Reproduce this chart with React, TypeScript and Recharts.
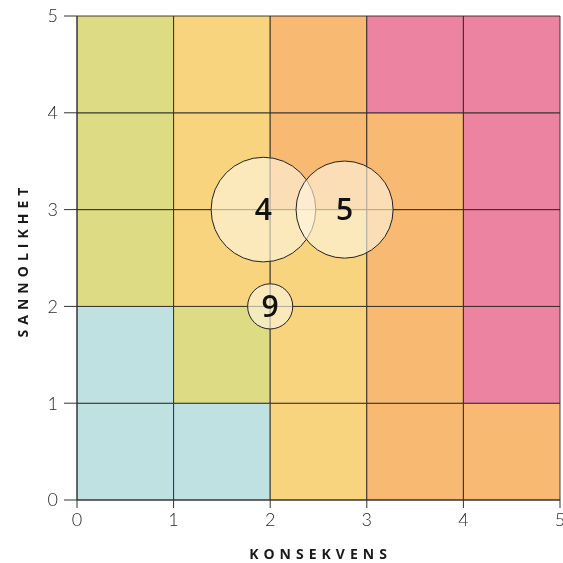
import React from "react";
import {
  ScatterChart,
  Scatter,
  XAxis,
  YAxis,
  ZAxis,
  ReferenceArea,
  LabelList,
} from "recharts";

// konsekvens bands (x) and sannsynlighet bands (y)
const consequenceBands = [0, 1, 2, 3, 4];
const likelihoodBands = [0, 1, 2, 3, 4];
const axisTicks = [0, 1, 2, 3, 4, 5];

// risk level per cell, row = likelihood band (bottom to top), col = consequence band
const riskLevels = [
  [0, 0, 2, 3, 3],
  [0, 1, 2, 3, 4],
  [1, 2, 2, 3, 4],
  [1, 2, 3, 3, 4],
  [1, 2, 3, 4, 4],
];

const levelColors = ["#bfe1e2", "#dedb85", "#f8d47f", "#f8b972", "#ec84a1"];

// risks plotted as bubbles
const riskIds = [4, 5, 9];
const riskConsequence = [1.93, 2.77, 2.0];
const riskLikelihood = [3.0, 3.0, 2.0];
const riskWeight = [86, 74, 16];

const risks = riskIds.map((id, i) => ({
  id,
  x: riskConsequence[i],
  y: riskLikelihood[i],
  z: riskWeight[i],
}));

const tickStyle = {
  fontFamily: "Lato, 'Open Sans', sans-serif",
  fontSize: 18,
  fontWeight: 300,
  fill: "#2a2a2a",
};

const titleStyle = {
  fontFamily: "'Open Sans', sans-serif",
  fontSize: 14,
  fontWeight: 700,
  letterSpacing: 5,
  fill: "#1a1a1a",
};

const YTitle = ({ viewBox }: any) => {
  const x = viewBox.x + 22;
  const y = viewBox.y + viewBox.height / 2 + 2;
  return (
    <text
      x={x}
      y={y}
      transform={`rotate(-90 ${x} ${y})`}
      textAnchor="middle"
      dominantBaseline="central"
      style={titleStyle}
    >
      SANNOLIKHET
    </text>
  );
};

const XTitle = ({ viewBox }: any) => {
  const x = viewBox.x + viewBox.width / 2 + 2;
  const y = viewBox.y + 53;
  return (
    <text x={x} y={y} textAnchor="middle" dominantBaseline="central" style={titleStyle}>
      KONSEKVENS
    </text>
  );
};

export default function App() {
  return (
    <div style={{ position: "fixed", top: 0, left: 0, width: 563, height: 563, overflow: "hidden" }}>
      <ScatterChart width={590} height={563} margin={{ top: 16, right: 30, bottom: 0, left: 0 }}>
        <XAxis
          type="number"
          dataKey="x"
          domain={[0, 5]}
          ticks={axisTicks}
          interval={0}
          height={63}
          tickSize={8}
          tickMargin={5}
          tick={tickStyle}
          stroke="#333"
          label={<XTitle />}
        />
        <YAxis
          type="number"
          dataKey="y"
          domain={[0, 5]}
          ticks={axisTicks}
          interval={0}
          width={77}
          tickSize={13}
          tickMargin={6}
          tick={tickStyle}
          stroke="#333"
          label={<YTitle />}
        />
        <ZAxis type="number" dataKey="z" domain={[0, 100]} range={[0, 10000]} />
        {likelihoodBands.map((row) =>
          consequenceBands.map((col) => (
            <ReferenceArea
              key={`${row}-${col}`}
              x1={col}
              x2={col + 1}
              y1={row}
              y2={row + 1}
              fill={levelColors[riskLevels[row][col]]}
              fillOpacity={1}
              stroke="#222"
              strokeWidth={1}
              strokeOpacity={0.85}
              ifOverflow="visible"
            />
          ))
        )}
        <Scatter
          data={risks}
          fill="#fff6e0"
          fillOpacity={0.62}
          stroke="#222"
          strokeWidth={1}
          isAnimationActive={false}
        >
          <LabelList
            dataKey="id"
            position="center"
            style={{
              fontFamily: "'Open Sans', sans-serif",
              fontSize: 30,
              fontWeight: 600,
              fill: "#111",
            }}
          />
        </Scatter>
      </ScatterChart>
    </div>
  );
}
